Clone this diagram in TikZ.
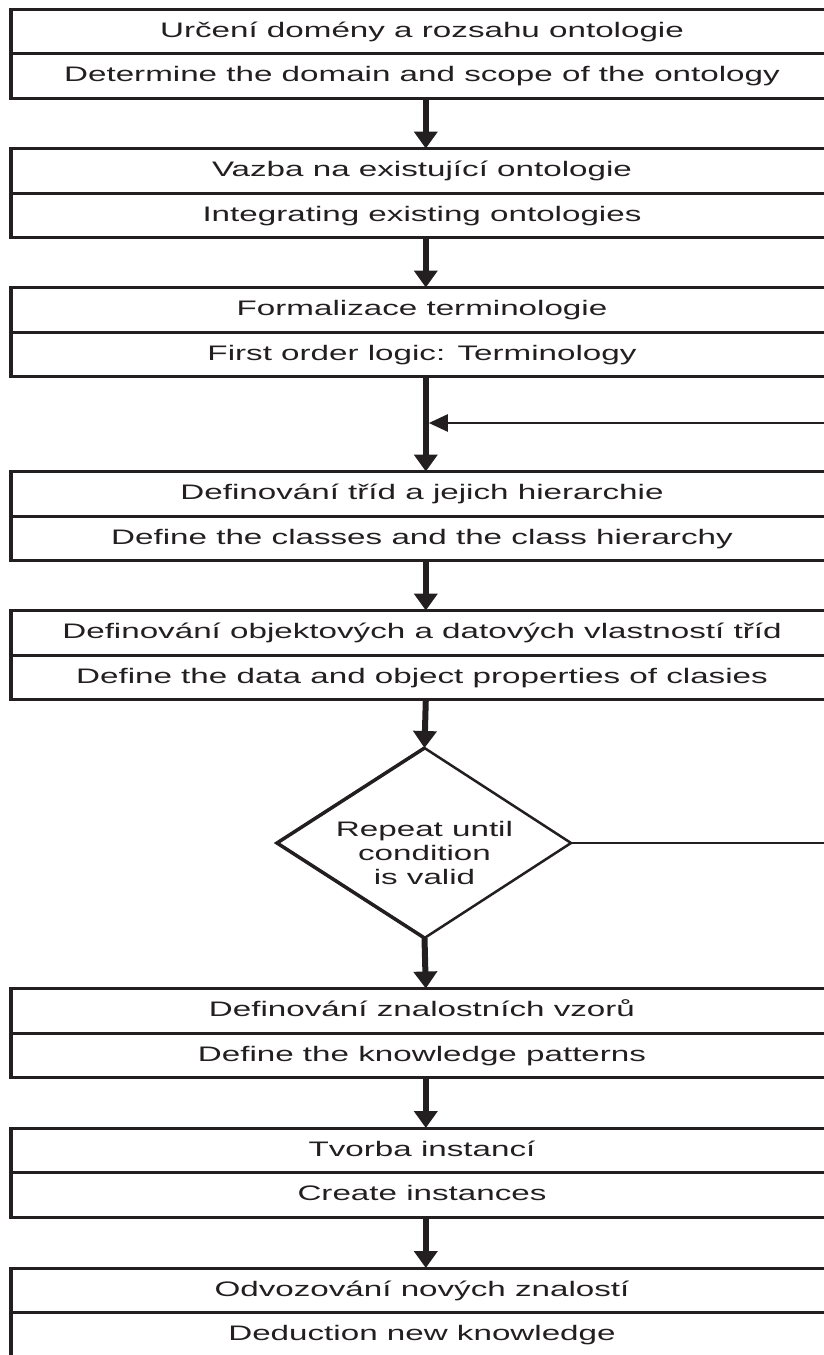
\documentclass[tikz,border=0pt]{standalone}
\usepackage{fontspec}
\setmainfont{Liberation Sans}
\newfontfamily\labfont[FakeStretch=1.58]{Liberation Sans}
\usetikzlibrary{arrows.meta}
\definecolor{ink}{RGB}{35,31,32}
\newcommand{\stagebox}[4]{%
  \node[box] (#1) at (10.8,#2) {};
  \draw[leftedge] (#1.north west) -- (#1.south west);
  \draw[divider] (#1.west) -- (#1.east);
  \node[lab] (#1a) at (422,#2+28.25) {#3};
  \node[lab] (#1b) at (422,#2+72.75) {#4};
}
\begin{document}
\begin{tikzpicture}[x=1pt,y=-1pt,
  box/.style={draw=ink, line width=3pt, minimum width=830pt, minimum height=89pt,
    inner sep=0pt, outer sep=0pt, anchor=north west},
  leftedge/.style={draw=ink, line width=4.5pt},
  divider/.style={draw=ink, line width=3pt},
  lab/.style={font=\labfont\fontsize{21}{25}\selectfont, text=ink, anchor=base, inner sep=0pt},
  dlab/.style={font=\labfont\fontsize{21}{24}\selectfont, text=ink, align=center, inner sep=0pt, anchor=base},
  flow/.style={draw=ink, line width=6pt, -{Triangle[length=17pt,width=23pt]}},
  back/.style={draw=ink, line width=2.5pt, -{Triangle[length=19pt,width=17pt]}},
  loopline/.style={draw=ink, line width=2pt},
  diam/.style={draw=ink, line width=2.5pt, line join=miter},
  diamthick/.style={draw=ink, line width=3.5pt, line join=miter},
]
\useasboundingbox (0,0) rectangle (824,1355);
\clip (0,0) rectangle (824,1355);

\stagebox{b1}{9}{Určení domény a rozsahu ontologie}{Determine the domain and scope of the ontology}
\stagebox{b2}{148.5}{Vazba na existující ontologie}{Integrating existing ontologies}
\stagebox{b3}{287.5}{Formalizace terminologie}{First order logic: Terminology}
\stagebox{b4}{471.5}{Definování tříd a jejich hierarchie}{Define the classes and the class hierarchy}
\stagebox{b5}{610.5}{Definování objektových a datových vlastností tříd}{Define the data and object properties of clasies}
\stagebox{b6}{988.5}{Definování znalostních vzorů}{Define the knowledge patterns}
\stagebox{b7}{1128}{Tvorba instancí}{Create instances}
\stagebox{b8}{1268}{Odvozování nových znalostí}{Deduction new knowledge}

% decision diamond
\coordinate (dT) at (424.5,748);
\coordinate (dB) at (424.5,938);
\coordinate (dL) at (277,843);
\coordinate (dR) at (571,843);
\draw[diam] (dT) -- (dR) -- (dB) -- (dL) -- cycle;
\draw[diamthick] (dT) -- (dL) -- (dB);
\node[dlab] (dtext) at (424.5,884) {Repeat until\\condition\\is valid};

% flow arrows
\draw[flow] (b1.south) -- (b2.north);
\draw[flow] (b2.south) -- (b3.north);
\draw[flow] (b3.south) -- (b4.north);
\draw[flow] (b4.south) -- (b5.north);
\draw[flow] (b5.south) -- (dT);
\draw[flow] (dB) -- (b6.north);
\draw[flow] (b6.south) -- (b7.north);
\draw[flow] (b7.south) -- (b8.north);

% loop back
\coordinate (loopout) at (830,843);
\coordinate (loopin) at (830,423);
\draw[loopline] (dR) -- (loopout);
\draw[back] (loopin) -- ([xshift=3pt]b3.south |- loopin);
\end{tikzpicture}
\end{document}
